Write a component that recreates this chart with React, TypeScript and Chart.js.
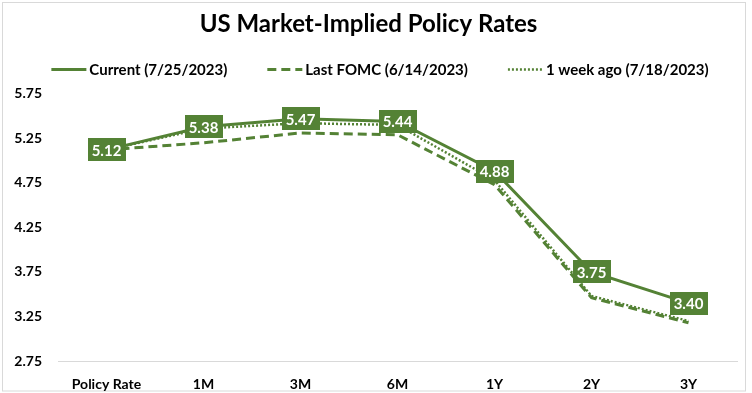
import React, { useEffect, useRef } from "react";
import { Chart, registerables } from "chart.js";

Chart.register(...registerables);

const categories = ["Policy Rate", "1M", "3M", "6M", "1Y", "2Y", "3Y"];
const current = [5.12, 5.38, 5.47, 5.44, 4.88, 3.75, 3.4];
const lastFomc = [5.12, 5.2, 5.31, 5.29, 4.73, 3.46, 3.18];
const weekAgo = [5.12, 5.36, 5.42, 5.4, 4.78, 3.48, 3.2];
const yTicks = [2.75, 3.25, 3.75, 4.25, 4.75, 5.25, 5.75];
const seriesNames = ["Current (7/25/2023)", "Last FOMC (6/14/2023)", "1 week ago (7/18/2023)"];
const titleText = "US Market-Implied Policy Rates";

const GREEN = "#548235";
const FONT = "Lato, 'Open Sans', sans-serif";

const frameAndLabels = {
  id: "frameAndLabels",
  beforeDraw(chart: any) {
    const { ctx, width, height } = chart;
    ctx.save();
    ctx.fillStyle = "#ffffff";
    ctx.fillRect(0, 0, width, height);
    ctx.strokeStyle = "#d9d9d9";
    ctx.lineWidth = 1;
    ctx.strokeRect(2.5, 2.5, 743, 388.5);
    ctx.restore();
  },
  afterDatasetsDraw(chart: any) {
    const ctx = chart.ctx;
    const meta = chart.getDatasetMeta(0);
    ctx.save();
    ctx.font = `bold 15px ${FONT}`;
    ctx.textAlign = "center";
    ctx.textBaseline = "middle";
    meta.data.forEach((pt: any, i: number) => {
      const txt = current[i].toFixed(2);
      const w = ctx.measureText(txt).width + 8;
      const h = 23;
      ctx.fillStyle = GREEN;
      ctx.fillRect(Math.round(pt.x - w / 2), Math.round(pt.y - h / 2), Math.round(w), h);
      ctx.fillStyle = "#ffffff";
      ctx.fillText(txt, pt.x, pt.y + 1);
    });
    ctx.restore();
  },
  afterDraw(chart: any) {
    const ctx = chart.ctx;
    const datasets = chart.data.datasets;
    ctx.save();
    ctx.font = `bold 15px ${FONT}`;
    ctx.textBaseline = "middle";
    ctx.textAlign = "left";
    const sample = 35;
    const gapText = 3;
    const gapItems = 40;
    const widths = datasets.map((d: any) => sample + gapText + ctx.measureText(d.label).width);
    const total = widths.reduce((a: number, b: number) => a + b, 0) + gapItems * (widths.length - 1);
    let x = chart.width / 2 + 4 - total / 2;
    const y = 69;
    datasets.forEach((d: any, i: number) => {
      ctx.strokeStyle = d.borderColor;
      ctx.lineWidth = d.borderWidth;
      ctx.setLineDash(d.borderDash || []);
      ctx.beginPath();
      ctx.moveTo(x, y + 0.5);
      ctx.lineTo(x + sample, y + 0.5);
      ctx.stroke();
      ctx.setLineDash([]);
      ctx.fillStyle = "#000000";
      ctx.fillText(d.label, x + sample + gapText, y + 1);
      x += widths[i] + gapItems;
    });
    ctx.restore();
  },
};

export default function App() {
  const ref = useRef<HTMLCanvasElement | null>(null);

  useEffect(() => {
    document.body.style.margin = "0";
    if (!ref.current) return;
    const chart = new Chart(ref.current, {
      type: "line",
      data: {
        labels: categories,
        datasets: [
          {
            label: seriesNames[0],
            data: current,
            borderColor: GREEN,
            backgroundColor: GREEN,
            borderWidth: 3,
            pointRadius: 0,
            tension: 0,
          },
          {
            label: seriesNames[1],
            data: lastFomc,
            borderColor: GREEN,
            backgroundColor: GREEN,
            borderWidth: 3,
            borderDash: [9, 5],
            pointRadius: 0,
            tension: 0,
          },
          {
            label: seriesNames[2],
            data: weekAgo,
            borderColor: GREEN,
            backgroundColor: GREEN,
            borderWidth: 2.5,
            borderDash: [2, 2],
            pointRadius: 0,
            tension: 0,
          },
        ],
      },
      options: {
        responsive: true,
        maintainAspectRatio: false,
        animation: false,
        layout: { padding: { left: 0, right: 15, top: 0, bottom: 2 } },
        plugins: {
          legend: { display: false },
          tooltip: { enabled: false },
          title: {
            display: true,
            text: titleText,
            color: "#000000",
            font: { family: FONT, size: 24, weight: "bold" },
            padding: { top: 10, bottom: 55 },
          },
        },
        scales: {
          x: {
            offset: true,
            grid: { display: false, drawTicks: false },
            border: { display: true, color: "#d9d9d9", width: 1 },
            afterFit: (axis: any) => {
              axis.height = 30;
            },
            ticks: {
              color: "#000000",
              font: { family: FONT, size: 14, weight: "bold" },
              padding: 15,
              maxRotation: 0,
              autoSkip: false,
            },
          },
          y: {
            min: 2.75,
            max: 5.75,
            afterBuildTicks: (axis: any) => {
              axis.ticks = yTicks.map((v) => ({ value: v }));
            },
            afterFit: (axis: any) => {
              axis.width = 58;
            },
            grid: { display: false, drawTicks: false },
            border: { display: false },
            ticks: {
              color: "#000000",
              font: { family: FONT, size: 14, weight: "bold" },
              padding: 16,
              callback: (v: any) => Number(v).toFixed(2),
            },
          },
        },
      },
      plugins: [frameAndLabels],
    });
    return () => chart.destroy();
  }, []);

  return (
    <div style={{ width: 752, height: 393, position: "relative" }}>
      <canvas ref={ref} />
    </div>
  );
}
